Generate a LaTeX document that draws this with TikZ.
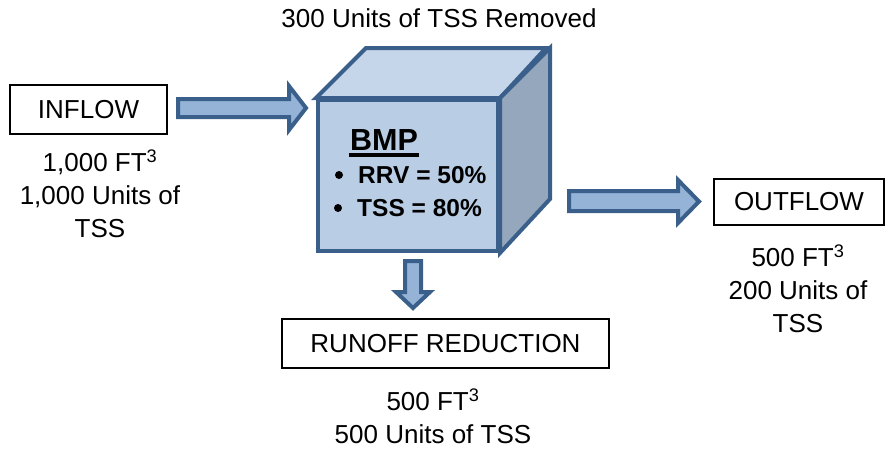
\documentclass[tikz,border=0pt]{standalone}
\usepackage{fontspec}
\setmainfont{Liberation Sans}
\begin{document}
\begin{tikzpicture}[x=1pt,y=-1pt,
  lbl/.style={font=\fontsize{26}{32.7}\selectfont, inner sep=0pt},
  flowbox/.style={draw=black, line width=1.5pt, fill=white, inner sep=0pt, font=\fontsize{26}{33}\selectfont},
  blockarrow/.style={draw=bdr, fill=arrfill, line width=4pt, line join=miter},
  face/.style={draw=bdr, line width=4pt, line join=miter}
]
\definecolor{bdr}{HTML}{3A5F8B}
\definecolor{arrfill}{HTML}{95B3D7}
\definecolor{frontfill}{HTML}{B9CDE5}
\definecolor{topfill}{HTML}{C6D6EA}
\definecolor{sidefill}{HTML}{95A7BC}
\useasboundingbox (0,0) rectangle (887,450);

% boxes
\node[flowbox, minimum width=157pt, minimum height=49pt] (inflow) at (88.5,109.5) {INFLOW};
\node[flowbox, minimum width=170pt, minimum height=46pt] (outflow) at (799,202) {OUTFLOW};
\node[flowbox, minimum width=327pt, minimum height=49pt] (runoff) at (445.5,343.5) {RUNOFF REDUCTION};

% cube
\node[face, fill=frontfill, minimum width=180pt, minimum height=151pt, inner sep=0pt] (bmp) at (408,175.5) {};
\draw[face, fill=topfill] (bmp.north west) -- ++(50,-50) -- ++(180,0) -- (bmp.north east) -- cycle;
\draw[face, fill=sidefill] (bmp.north east) -- ++(50,-50) -- ++(0,151) -- (bmp.south east) -- cycle;

% BMP text
\node[lbl, font=\fontsize{30.5}{36}\selectfont\bfseries, anchor=base] (bmptitle) at (384,150) {BMP};
\draw[line width=3.5pt] ([xshift=-1pt,yshift=-5pt]bmptitle.base west) -- ([xshift=1pt,yshift=-5pt]bmptitle.base east);
\node[lbl, font=\fontsize{24.5}{30}\selectfont\bfseries, anchor=base west] (rrv) at (358,183) {RRV = 50\%};
\node[lbl, font=\fontsize{24.5}{30}\selectfont\bfseries, anchor=base west] (tss) at (357,216) {TSS = 80\%};
\fill (339,175) circle (4pt);
\fill (338,208) circle (4pt);

% block arrows
\draw[blockarrow] (178,99) -- (289,99) -- (289,86) -- (306,108) -- (289,130) -- (289,117) -- (178,117) -- cycle;
\draw[blockarrow] (569,191) -- (678,191) -- (678,180) -- (699,201.5) -- (678,223) -- (678,211) -- (569,211) -- cycle;
\draw[blockarrow] (405,261) -- (421,261) -- (421,292) -- (430,292) -- (413,308) -- (396,292) -- (405,292) -- cycle;

% labels (anchor=base is the baseline of the last line)
\node[lbl, anchor=base] (removed) at (439,27) {300 Units of TSS Removed};
\node[lbl, anchor=base, align=center] (intext) at (100,237) {1,000 FT\textsuperscript{3}\\1,000 Units of\\TSS};
\node[lbl, anchor=base, align=center] (outtext) at (798,332) {500 FT\textsuperscript{3}\\200 Units of\\TSS};
\node[lbl, anchor=base, align=center] (runtext) at (433,443) {500 FT\textsuperscript{3}\\500 Units of TSS};
\end{tikzpicture}
\end{document}
